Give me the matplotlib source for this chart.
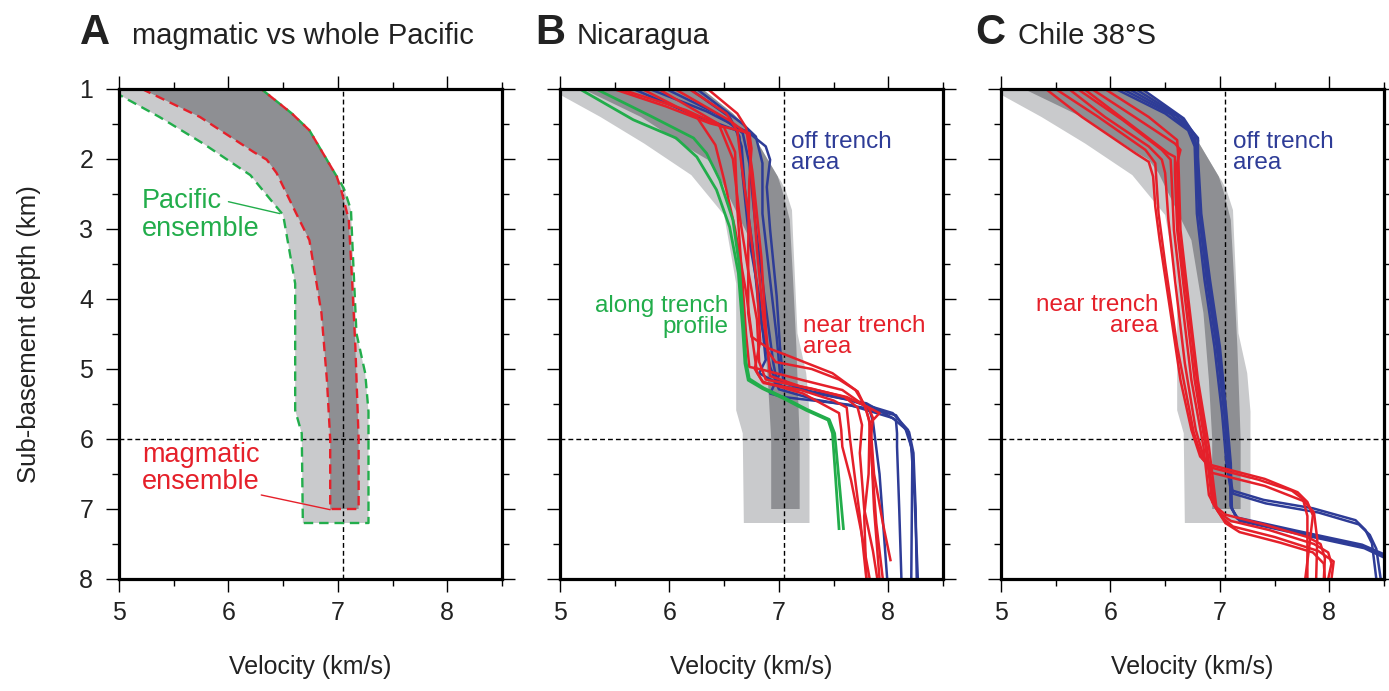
import matplotlib
matplotlib.use('Agg')
import matplotlib.pyplot as plt
from matplotlib.ticker import MultipleLocator

plt.rcParams['font.family'] = ['Liberation Sans', 'DejaVu Sans']

RED = '#e5202a'
BLUE = '#2e3c97'
GREEN = '#22ad4b'
DARK = '#8e8f93'
LIGHT = '#c9cacc'

# ensemble envelopes, velocity (km/s) vs sub-basement depth (km)
mag_left_v = [5.21, 5.74, 6.23, 6.35, 6.44, 6.62, 6.74, 6.79, 6.85, 6.90, 6.93, 6.93]
mag_left_d = [1.0, 1.40, 1.90, 2.01, 2.20, 2.78, 3.16, 3.63, 4.20, 5.16, 6.0, 7.0]
mag_right_v = [6.30, 6.58, 6.74, 6.99, 7.03, 7.10, 7.13, 7.16, 7.19, 7.19]
mag_right_d = [1.0, 1.35, 1.59, 2.25, 2.44, 2.87, 3.73, 4.68, 6.0, 7.0]

pac_left_v = [5.0, 5.01, 5.37, 5.77, 6.20, 6.50, 6.61, 6.61, 6.67, 6.68]
pac_left_d = [1.0, 1.09, 1.40, 1.78, 2.23, 2.80, 3.78, 5.59, 5.92, 7.2]
pac_right_v = [6.30, 6.58, 6.74, 6.99, 7.02, 7.06, 7.12, 7.13, 7.17, 7.25, 7.28, 7.28]
pac_right_d = [1.0, 1.35, 1.59, 2.25, 2.32, 2.44, 2.73, 3.11, 4.49, 5.06, 5.61, 7.2]

# Nicaragua profiles
nic_green_v = [
    [5.18, 5.67, 6.06, 6.25, 6.43, 6.55, 6.63, 6.67, 6.69, 6.72, 6.85, 7.04, 7.25, 7.45, 7.49, 7.52, 7.55],
    [5.33, 5.82, 6.22, 6.34, 6.46, 6.58, 6.64, 6.68, 6.70, 6.73, 6.86, 7.05, 7.26, 7.46, 7.51, 7.55, 7.59],
]
nic_green_d = [
    [1.0, 1.44, 1.70, 1.97, 2.44, 2.97, 3.63, 4.44, 4.92, 5.16, 5.28, 5.42, 5.59, 5.73, 5.92, 6.59, 7.28],
    [1.0, 1.38, 1.70, 1.92, 2.30, 2.87, 3.54, 4.40, 4.90, 5.14, 5.27, 5.41, 5.58, 5.72, 5.92, 6.59, 7.28],
]
nic_blue_v = [
    [5.67, 6.19, 6.61, 6.66, 6.69, 6.76, 6.82, 6.92, 7.00, 7.34, 7.80, 8.07, 8.16, 8.21, 8.24, 8.27],
    [5.82, 6.34, 6.73, 6.88, 6.92, 6.89, 6.92, 6.98, 7.01, 7.04, 7.22, 7.64, 8.04, 8.18, 8.22, 8.21],
    [5.97, 6.43, 6.67, 6.73, 6.79, 6.88, 6.95, 6.98, 7.34, 7.80, 8.07, 8.08, 8.08, 8.10, 8.12],
    [6.19, 6.55, 6.64, 6.67, 6.73, 6.82, 6.88, 6.82, 7.04, 7.58, 7.82, 7.86, 7.92, 7.99],
    [6.25, 6.67, 6.79, 6.85, 6.85, 6.92, 6.98, 7.01, 6.92, 7.04, 7.64, 8.04, 8.19, 8.23, 8.25, 8.26],
]
nic_blue_d = [
    [1.0, 1.35, 1.59, 1.82, 2.44, 3.25, 4.20, 4.97, 5.29, 5.44, 5.56, 5.66, 5.87, 6.11, 6.82, 8.0],
    [1.0, 1.32, 1.63, 1.82, 2.01, 2.40, 3.01, 3.96, 4.68, 5.16, 5.30, 5.44, 5.63, 5.87, 6.21, 8.0],
    [1.0, 1.35, 1.63, 2.06, 3.01, 4.11, 4.92, 5.16, 5.35, 5.49, 5.73, 5.92, 6.11, 7.00, 8.0],
    [1.0, 1.40, 1.68, 2.25, 3.16, 3.96, 4.87, 5.06, 5.25, 5.40, 5.54, 5.75, 6.50, 8.0],
    [1.0, 1.50, 1.68, 2.06, 2.78, 3.73, 4.54, 5.06, 5.35, 5.40, 5.51, 5.70, 5.90, 6.20, 7.00, 8.0],
]
nic_red_v = [
    [5.49, 5.97, 6.37, 6.73, 6.75, 6.73, 6.72, 6.72, 6.75, 6.90, 7.10, 7.49, 7.70, 7.78, 7.83, 7.82, 7.78, 7.80],
    [5.55, 6.15, 6.50, 6.60, 6.62, 6.66, 6.70, 6.73, 6.85, 7.22, 7.58, 7.77, 7.92, 7.83, 7.84, 7.89, 7.95],
    [5.75, 6.25, 6.42, 6.50, 6.60, 6.70, 6.76, 6.80, 6.85, 7.22, 7.55, 7.57, 7.58, 7.66, 7.75, 7.83],
    [5.90, 6.45, 6.58, 6.64, 6.72, 6.80, 6.82, 6.88, 7.30, 7.60, 7.72, 7.76, 7.74, 7.78, 7.86, 7.90],
    [6.05, 6.55, 6.72, 6.75, 6.80, 6.86, 6.90, 6.97, 7.30, 7.55, 7.72, 7.80, 7.84, 7.87, 7.95, 8.02],
    [6.18, 6.52, 6.62, 6.66, 6.73, 6.80, 6.83, 6.78, 6.86, 7.20, 7.50, 7.62, 7.65, 7.74, 7.80],
    [6.35, 6.62, 6.70, 6.76, 6.84, 6.88, 6.92, 7.20, 7.62, 7.82, 7.86, 7.84, 7.87, 7.92],
]
nic_red_d = [
    [1.0, 1.25, 1.49, 1.63, 1.85, 2.30, 3.25, 4.20, 4.54, 4.70, 4.82, 5.06, 5.30, 5.51, 5.75, 6.50, 7.10, 8.0],
    [1.0, 1.30, 1.55, 1.90, 2.70, 3.60, 4.50, 4.97, 5.01, 5.16, 5.30, 5.51, 5.63, 5.78, 6.11, 7.20, 8.0],
    [1.0, 1.40, 1.80, 2.30, 3.00, 3.90, 4.60, 5.05, 5.18, 5.35, 5.63, 5.87, 6.11, 6.59, 7.30, 8.0],
    [1.0, 1.50, 2.00, 2.80, 3.60, 4.30, 4.90, 5.15, 5.28, 5.40, 5.55, 5.80, 6.20, 7.00, 7.60, 8.0],
    [1.0, 1.45, 1.65, 2.20, 3.30, 4.30, 4.75, 4.90, 5.00, 5.15, 5.32, 5.58, 5.85, 6.50, 7.20, 7.73],
    [1.0, 1.35, 1.60, 2.10, 2.90, 3.80, 4.60, 5.00, 5.20, 5.30, 5.45, 5.55, 6.00, 7.10, 8.0],
    [1.0, 1.35, 1.55, 2.20, 3.40, 4.40, 5.10, 5.25, 5.40, 5.55, 5.70, 6.00, 7.00, 8.0],
]

# Chile 38S profiles
chi_blue_v = [
    [6.05, 6.50, 6.71, 6.77, 6.79, 6.86, 6.95, 7.02, 7.06, 7.10, 7.40, 7.85, 8.24, 8.33, 8.39, 8.43],
    [6.11, 6.55, 6.74, 6.78, 6.81, 6.88, 6.97, 7.04, 7.08, 7.12, 7.42, 7.90, 8.27, 8.37, 8.43, 8.47],
    [6.17, 6.60, 6.77, 6.79, 6.82, 6.89, 6.98, 7.05, 7.09, 7.10, 7.16, 7.71, 8.31, 8.55],
    [6.23, 6.64, 6.80, 6.80, 6.83, 6.91, 7.00, 7.06, 7.10, 7.11, 7.18, 7.73, 8.32, 8.55],
    [6.29, 6.67, 6.80, 6.79, 6.82, 6.90, 6.99, 7.05, 7.09, 7.10, 7.15, 7.70, 8.30, 8.55],
]
chi_blue_d = [
    [1.0, 1.35, 1.59, 1.82, 2.78, 3.73, 4.68, 5.63, 6.35, 6.73, 6.87, 6.99, 7.16, 7.30, 7.49, 8.0],
    [1.0, 1.36, 1.62, 1.85, 2.78, 3.73, 4.68, 5.63, 6.40, 6.78, 6.92, 7.05, 7.22, 7.37, 7.57, 8.0],
    [1.0, 1.38, 1.66, 1.90, 2.78, 3.73, 4.68, 5.63, 6.35, 6.97, 7.14, 7.33, 7.53, 7.70],
    [1.0, 1.40, 1.70, 1.97, 2.78, 3.73, 4.68, 5.63, 6.35, 7.00, 7.17, 7.36, 7.56, 7.73],
    [1.0, 1.42, 1.73, 2.00, 2.78, 3.73, 4.68, 5.63, 6.35, 6.95, 7.12, 7.31, 7.51, 7.68],
]
chi_red_v = [
    [5.41, 5.74, 6.23, 6.35, 6.39, 6.41, 6.45, 6.55, 6.64, 6.74, 6.82, 6.89, 7.41, 7.71, 7.80, 7.85, 7.82, 7.78],
    [5.62, 5.95, 6.35, 6.47, 6.50, 6.53, 6.59, 6.68, 6.78, 6.86, 6.92, 7.41, 7.77, 7.86, 7.89, 7.88],
    [5.70, 6.11, 6.47, 6.55, 6.56, 6.58, 6.65, 6.74, 6.85, 6.90, 6.95, 7.05, 7.40, 7.80, 7.92, 7.96, 7.95],
    [5.76, 6.17, 6.53, 6.59, 6.59, 6.61, 6.68, 6.77, 6.87, 6.93, 6.99, 7.10, 7.45, 7.86, 7.99, 8.02, 7.99],
    [5.83, 6.26, 6.59, 6.64, 6.61, 6.62, 6.70, 6.79, 6.88, 6.95, 7.02, 7.12, 7.50, 7.90, 8.04, 8.02],
    [5.95, 6.35, 6.61, 6.62, 6.64, 6.71, 6.80, 6.90, 6.97, 7.05, 7.18, 7.55, 7.85, 7.95, 7.96],
    [5.50, 5.89, 6.32, 6.41, 6.44, 6.50, 6.61, 6.76, 6.84, 6.90, 7.35, 7.66, 7.76, 7.80, 7.80],
]
chi_red_d = [
    [1.0, 1.40, 1.92, 2.04, 2.25, 2.68, 3.16, 4.20, 5.16, 5.87, 6.25, 6.36, 6.57, 6.76, 6.90, 7.09, 7.50, 8.0],
    [1.0, 1.40, 1.82, 2.01, 2.20, 2.87, 3.73, 4.92, 5.87, 6.30, 6.48, 6.67, 6.89, 7.05, 7.43, 8.0],
    [1.0, 1.44, 1.87, 2.01, 2.30, 3.01, 3.97, 5.16, 6.11, 6.80, 6.95, 7.08, 7.22, 7.40, 7.50, 7.70, 8.0],
    [1.0, 1.49, 1.92, 1.97, 2.20, 3.01, 3.97, 5.16, 6.11, 6.90, 7.05, 7.17, 7.30, 7.50, 7.62, 7.78, 8.0],
    [1.0, 1.44, 1.78, 1.87, 2.06, 3.01, 3.97, 5.16, 6.11, 6.95, 7.12, 7.25, 7.40, 7.60, 7.75, 8.0],
    [1.0, 1.40, 1.73, 1.97, 3.01, 3.97, 5.16, 6.11, 7.00, 7.20, 7.33, 7.48, 7.62, 7.78, 8.0],
    [1.0, 1.40, 1.87, 2.06, 2.78, 3.49, 4.68, 5.90, 6.28, 6.40, 6.58, 6.74, 6.86, 7.10, 8.0],
]

V_REF = 7.05
D_REF = 6.0


def style_axes(ax):
    ax.set_xlim(5, 8.5)
    ax.set_ylim(8, 1)
    ax.set_xticks([5, 6, 7, 8])
    ax.set_yticks(range(1, 9))
    ax.xaxis.set_minor_locator(MultipleLocator(0.5))
    ax.yaxis.set_minor_locator(MultipleLocator(0.5))
    ax.tick_params(which='both', direction='out', top=True, right=True,
                   width=1.0, colors='black', labelcolor='#222222')
    ax.tick_params(which='major', length=9.5, labelsize=18)
    ax.tick_params(which='minor', length=5)
    ax.tick_params(axis='x', pad=6)
    ax.tick_params(axis='y', pad=9)
    for s in ax.spines.values():
        s.set_linewidth(2.3)
        s.set_zorder(10)
    ax.axvline(V_REF, color='black', lw=1.0, dashes=(3.5, 2.2), zorder=3)
    ax.axhline(D_REF, color='black', lw=1.0, dashes=(3.5, 2.2), zorder=3)
    ax.set_xlabel('Velocity (km/s)', fontsize=18, color='#222222')
    ax.xaxis.set_label_coords(0.5, -0.155)


def draw_bands(ax):
    ax.fill(pac_left_v + pac_right_v[::-1], pac_left_d + pac_right_d[::-1],
            color=LIGHT, lw=0, zorder=1)
    ax.fill(mag_left_v + mag_right_v[::-1], mag_left_d + mag_right_d[::-1],
            color=DARK, lw=0, zorder=2)


def draw_lines(ax, vs, ds, color, lw=1.8):
    for v, d in zip(vs, ds):
        ax.plot(v, d, color=color, lw=lw, zorder=5, solid_joinstyle='round')


fig = plt.figure(figsize=(13.89, 6.91), dpi=100)
W, H = 1389, 691
ax_w = 383 / W
ax_h = 490 / H
ax_bottom = 1 - 579 / H
axA = fig.add_axes([119 / W, ax_bottom, ax_w, ax_h])
axB = fig.add_axes([560 / W, ax_bottom, ax_w, ax_h])
axC = fig.add_axes([1001 / W, ax_bottom, ax_w, ax_h])

# panel A
draw_bands(axA)
axA.plot(pac_left_v + pac_right_v[::-1], pac_left_d + pac_right_d[::-1],
         color=GREEN, lw=1.7, dashes=(4, 2.5), zorder=4)
axA.plot(mag_left_v + mag_right_v[::-1], mag_left_d + mag_right_d[::-1],
         color=RED, lw=1.7, dashes=(4, 2.5), zorder=4)
style_axes(axA)
axA.text(5.21, 2.80, 'Pacific\nensemble', color=GREEN, fontsize=19.5,
         ha='left', va='center', linespacing=1.08)
axA.annotate('', xy=(6.47, 2.78), xytext=(6.00, 2.61),
             arrowprops=dict(arrowstyle='-', color=GREEN, lw=1.0, shrinkA=0, shrinkB=0))
axA.text(5.21, 6.42, 'magmatic\nensemble', color=RED, fontsize=19.5,
         ha='left', va='center', linespacing=1.08)
axA.annotate('', xy=(6.93, 7.01), xytext=(6.30, 6.80),
             arrowprops=dict(arrowstyle='-', color=RED, lw=1.0, shrinkA=0, shrinkB=0))

# panel B
draw_bands(axB)
style_axes(axB)
draw_lines(axB, nic_blue_v, nic_blue_d, BLUE)
draw_lines(axB, nic_red_v, nic_red_d, RED)
draw_lines(axB, nic_green_v, nic_green_d, GREEN, lw=2.0)
axB.set_yticklabels([])
axB.text(7.11, 1.91, 'off trench\narea', color=BLUE, fontsize=17.5,
         ha='left', va='center', linespacing=0.95)
axB.text(6.54, 4.25, 'along trench\nprofile', color=GREEN, fontsize=17.5,
         ha='right', va='center', linespacing=0.95)
axB.text(7.22, 4.53, 'near trench\narea', color=RED, fontsize=17.5,
         ha='left', va='center', linespacing=0.95)

# panel C
draw_bands(axC)
style_axes(axC)
draw_lines(axC, chi_blue_v, chi_blue_d, BLUE)
draw_lines(axC, chi_red_v, chi_red_d, RED)
axC.set_yticklabels([])
axC.text(7.12, 1.91, 'off trench\narea', color=BLUE, fontsize=17.5,
         ha='left', va='center', linespacing=0.95)
axC.text(6.44, 4.23, 'near trench\narea', color=RED, fontsize=17.5,
         ha='right', va='center', linespacing=0.95)

fig.text(29 / W, 1 - 334 / H, 'Sub-basement depth (km)', rotation=90,
         ha='center', va='center', fontsize=18.5, color='#222222')

titles = [(80, 132, 'A', 'magmatic vs whole Pacific'),
          (535, 577, 'B', 'Nicaragua'),
          (975, 1018, 'C', 'Chile 38°S')]
for xl, xt, letter, label in titles:
    fig.text(xl / W, 1 - 44 / H, letter, fontsize=30, fontweight='bold',
             ha='left', va='baseline', color='#222222')
    fig.text(xt / W, 1 - 44 / H, label, fontsize=21,
             ha='left', va='baseline', color='#222222')

fig.savefig('out.png', dpi=100)
